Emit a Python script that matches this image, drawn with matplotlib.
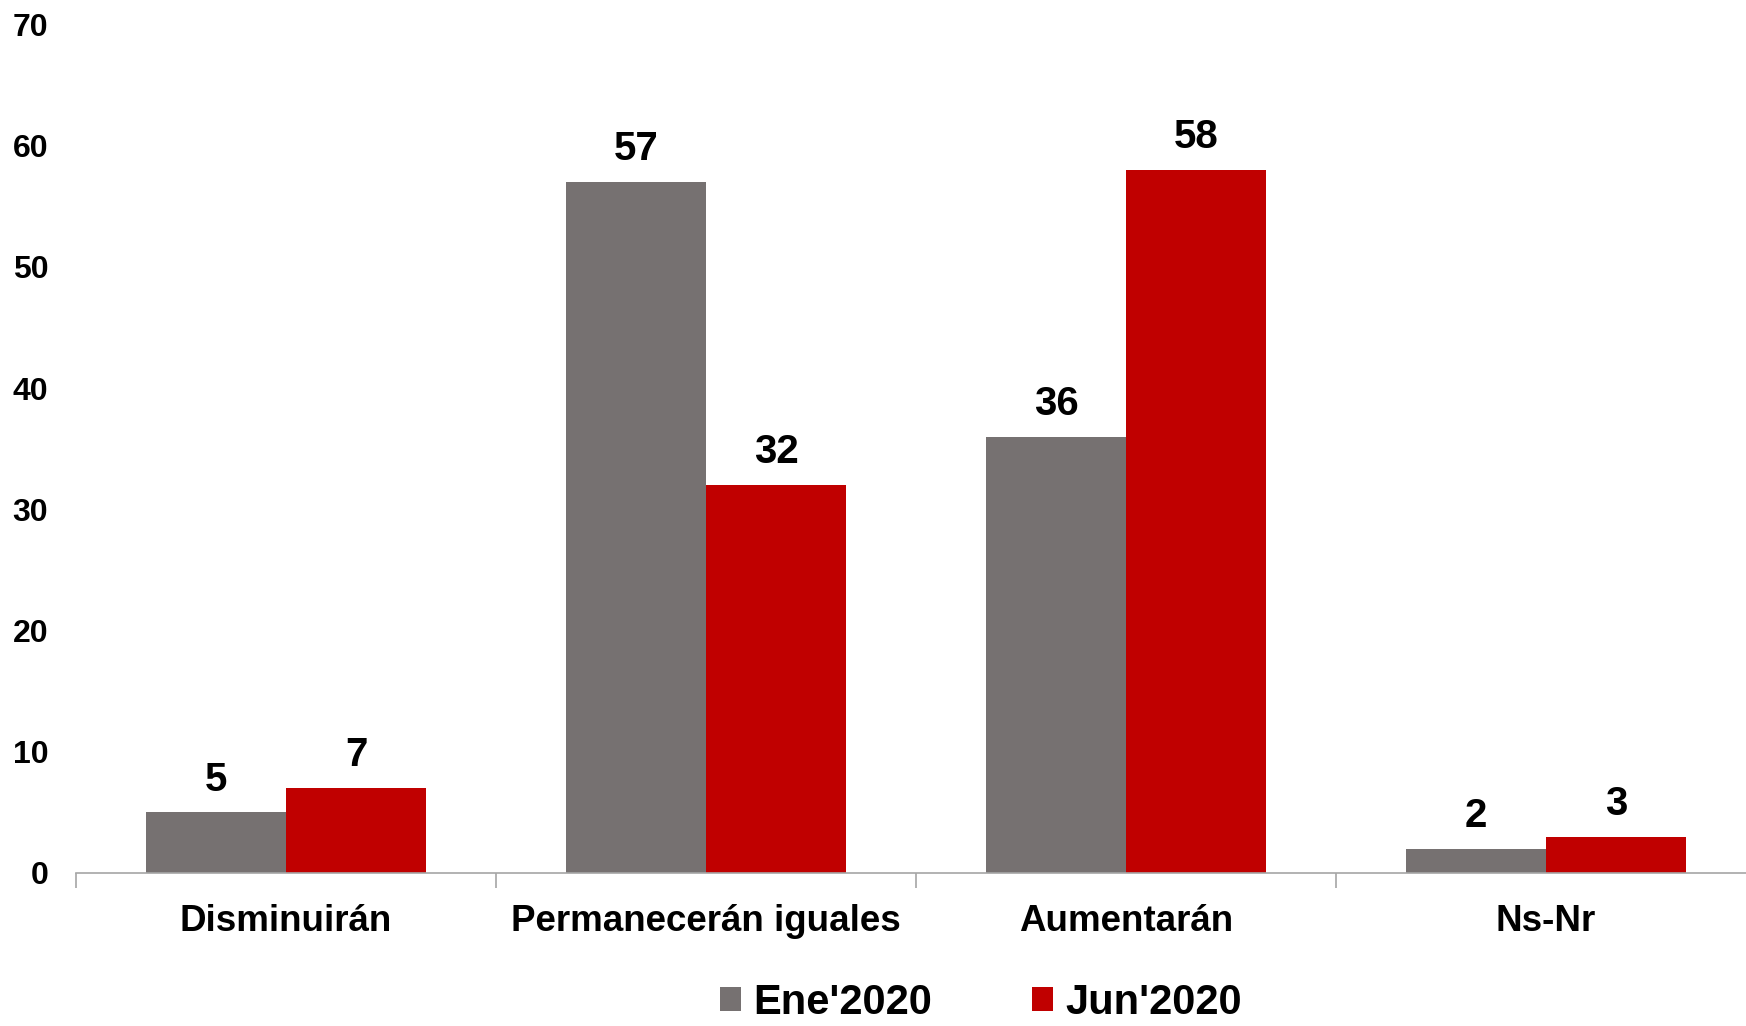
import matplotlib
matplotlib.use("Agg")
import matplotlib.pyplot as plt
from matplotlib.patches import Patch
import numpy as np

categories = ["Disminuirán", "Permanecerán iguales", "Aumentarán", "Ns-Nr"]
series_names = ["Ene'2020", "Jun'2020"]
ene_values = [5, 57, 36, 2]
jun_values = [7, 32, 58, 3]
y_ticks = [0, 10, 20, 30, 40, 50, 60, 70]

colors = ["#767171", "#C00000"]

plt.rcParams['font.family'] = ['Liberation Sans', 'DejaVu Sans']
plt.rcParams['font.weight'] = 'bold'

W, H = 1746, 1026
fig = plt.figure(figsize=(W / 100, H / 100), dpi=100)
left, right = 76, 1756
bottom_px, top_px = 873, 24.5
ax = fig.add_axes([left / W, (H - bottom_px) / H, (right - left) / W, (bottom_px - top_px) / H])

x = np.arange(len(categories))
bw = 1 / 3
b1 = ax.bar(x - bw / 2, ene_values, bw, color=colors[0], zorder=2)
b2 = ax.bar(x + bw / 2, jun_values, bw, color=colors[1], zorder=2)

for bars, vals in ((b1, ene_values), (b2, jun_values)):
    for r, v in zip(bars, vals):
        ax.annotate(str(v), (r.get_x() + r.get_width() / 2, r.get_height()),
                    xytext=(0, 10), textcoords="offset points",
                    ha="center", va="bottom", fontsize=29, fontweight="bold")

ax.set_xlim(-0.5, len(categories) - 0.5)
ax.set_ylim(0, 70)
ax.set_yticks(y_ticks)
ax.set_yticklabels([str(t) for t in y_ticks], fontsize=23, fontweight="bold")
ax.tick_params(axis="y", length=0, pad=20)

ax.set_xticks(np.arange(len(categories) + 1) - 0.5)
ax.set_xticklabels([])
ax.tick_params(axis="x", which="major", length=11, color="#A6A6A6", width=1.2)
ax.set_xticks(x, minor=True)
ax.set_xticklabels(categories, minor=True, fontsize=26.5, fontweight="bold")
ax.tick_params(axis="x", which="minor", length=0, pad=22)

for s in ("top", "right", "left"):
    ax.spines[s].set_visible(False)
ax.spines["bottom"].set_color("#A6A6A6")
ax.spines["bottom"].set_linewidth(1.2)

handles = [Patch(facecolor=c) for c in colors]
fig.legend(handles, series_names, loc="center", bbox_to_anchor=(981 / W, 1 - 1003 / H),
           ncol=2, frameon=False, prop={"weight": "bold", "size": 30},
           handlelength=0.5, handleheight=0.5, handletextpad=0.3, columnspacing=2.4,
           borderpad=0, borderaxespad=0)

fig.savefig("out.png", dpi=100)
